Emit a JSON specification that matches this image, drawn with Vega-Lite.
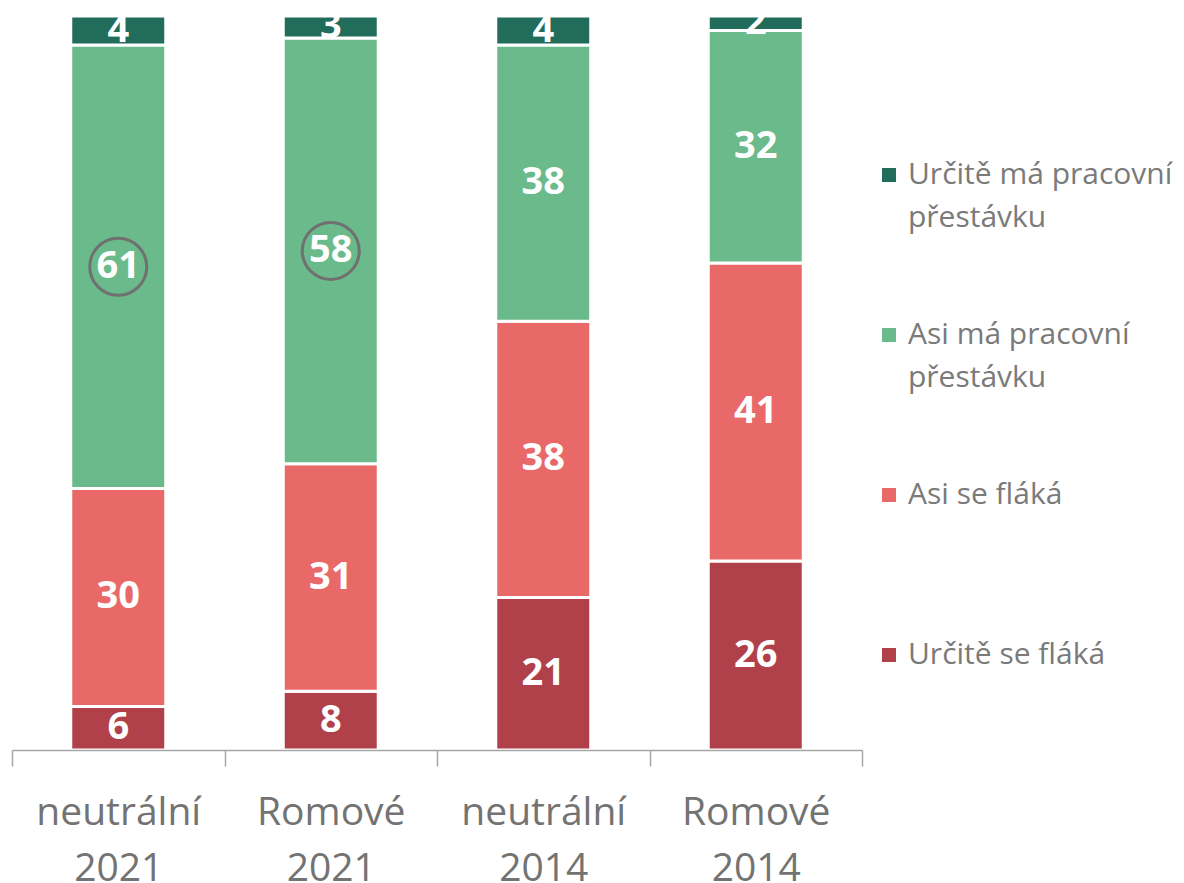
{
  "$schema": "https://vega.github.io/schema/vega-lite/v6.json",
  "width": 850,
  "height": 734,
  "autosize": "none",
  "padding": {"left": 12, "top": 16, "right": 322, "bottom": 133},
  "background": "white",
  "config": {
    "view": {"stroke": null},
    "font": "Open Sans",
    "style": {"guide-label": {"lineHeight": 43}}
  },
  "data": {
    "values": [
      {"group": "neutrální 2021", "answer": "Určitě se fláká", "order": 1, "value": 6, "circled": false},
      {"group": "neutrální 2021", "answer": "Asi se fláká", "order": 2, "value": 30, "circled": false},
      {"group": "neutrální 2021", "answer": "Asi má pracovní přestávku", "order": 3, "value": 61, "circled": true},
      {"group": "neutrální 2021", "answer": "Určitě má pracovní přestávku", "order": 4, "value": 4, "circled": false},
      {"group": "Romové 2021", "answer": "Určitě se fláká", "order": 1, "value": 8, "circled": false},
      {"group": "Romové 2021", "answer": "Asi se fláká", "order": 2, "value": 31, "circled": false},
      {"group": "Romové 2021", "answer": "Asi má pracovní přestávku", "order": 3, "value": 58, "circled": true},
      {"group": "Romové 2021", "answer": "Určitě má pracovní přestávku", "order": 4, "value": 3, "circled": false},
      {"group": "neutrální 2014", "answer": "Určitě se fláká", "order": 1, "value": 21, "circled": false},
      {"group": "neutrální 2014", "answer": "Asi se fláká", "order": 2, "value": 38, "circled": false},
      {"group": "neutrální 2014", "answer": "Asi má pracovní přestávku", "order": 3, "value": 38, "circled": false},
      {"group": "neutrální 2014", "answer": "Určitě má pracovní přestávku", "order": 4, "value": 4, "circled": false},
      {"group": "Romové 2014", "answer": "Určitě se fláká", "order": 1, "value": 26, "circled": false},
      {"group": "Romové 2014", "answer": "Asi se fláká", "order": 2, "value": 41, "circled": false},
      {"group": "Romové 2014", "answer": "Asi má pracovní přestávku", "order": 3, "value": 32, "circled": false},
      {"group": "Romové 2014", "answer": "Určitě má pracovní přestávku", "order": 4, "value": 2, "circled": false}
    ]
  },
  "transform": [
    {"stack": "value", "groupby": ["group"], "sort": [{"field": "order", "order": "ascending"}], "offset": "normalize", "as": ["y0", "y1"]},
    {"calculate": "(datum.y0 + datum.y1) / 2", "as": "ymid"}
  ],
  "encoding": {
    "x": {
      "field": "group",
      "type": "nominal",
      "sort": ["neutrální 2021", "Romové 2021", "neutrální 2014", "Romové 2014"],
      "scale": {"paddingInner": 0, "paddingOuter": 0},
      "axis": {
        "title": null,
        "zindex": 1,
        "labelAngle": 0,
        "labelExpr": "split(datum.label, ' ')",
        "labelFont": "Open Sans",
        "labelFontSize": 39,
        "labelColor": "#737373",
        "labelLineHeight": 56,
        "labelPadding": 27,
        "domainColor": "#a6a6a6",
        "domainWidth": 1.5,
        "tickColor": "#a6a6a6",
        "tickWidth": 1.5,
        "tickSize": 16,
        "tickBand": "extent"
      }
    }
  },
  "layer": [
    {
      "mark": {"type": "bar", "stroke": "white", "strokeWidth": 3, "width": {"band": 0.447}},
      "encoding": {
        "y": {"field": "y0", "type": "quantitative", "scale": {"domain": [0, 1]}, "axis": null},
        "y2": {"field": "y1"},
        "color": {
          "field": "answer",
          "type": "nominal",
          "scale": {
            "domain": ["Určitě má pracovní přestávku", "Asi má pracovní přestávku", "Asi se fláká", "Určitě se fláká"],
            "range": ["#216c5b", "#6aba8b", "#e96868", "#b0404a"]
          },
          "legend": {
            "orient": "none",
            "legendX": 862,
            "legendY": 79,
            "title": null,
            "padding": 0,
            "symbolType": "square",
            "symbolSize": 196,
            "symbolStrokeWidth": 0,
            "labelFont": "Open Sans",
            "labelFontSize": 30,
            "labelColor": "#7a7a7a",
            "labelOffset": 4,
            "labelLimit": 400,
            "clipHeight": 160,
            "rowPadding": 0,
            "labelExpr": "datum.label == 'Určitě má pracovní přestávku' ? ['Určitě má pracovní', 'přestávku'] : datum.label == 'Asi má pracovní přestávku' ? ['Asi má pracovní', 'přestávku'] : datum.label"
          }
        }
      }
    },
    {
      "mark": {"type": "text", "color": "white", "font": "Open Sans", "fontWeight": "bold", "fontSize": 38, "baseline": "middle", "align": "center"},
      "encoding": {
        "y": {"field": "ymid", "type": "quantitative"},
        "text": {"field": "value", "type": "quantitative"}
      }
    },
    {
      "transform": [{"filter": "datum.circled"}],
      "mark": {"type": "point", "shape": "circle", "filled": false, "stroke": "#707070", "strokeWidth": 3, "size": 3249, "opacity": 1},
      "encoding": {
        "y": {"field": "ymid", "type": "quantitative"}
      }
    }
  ]
}
